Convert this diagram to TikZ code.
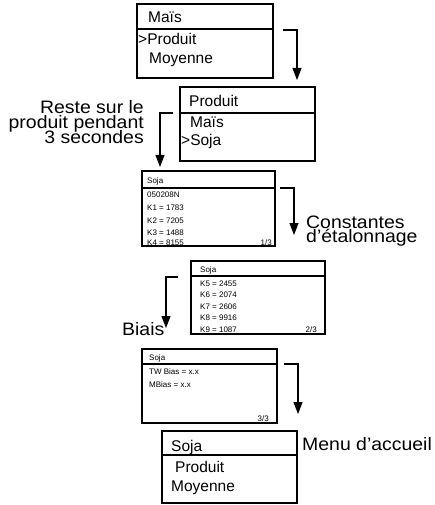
\documentclass[tikz,border=0pt]{standalone}
\usepackage{fontspec}
\setmainfont{Liberation Sans}
\newfontfamily\notefont[Ligatures=TeX, FakeStretch=1.08]{Liberation Sans}
\usetikzlibrary{arrows.meta}

\begin{document}
\begin{tikzpicture}[x=1pt,y=-1pt,
    screen/.style={draw, line width=1.1pt, anchor=north west, inner sep=0pt, outer sep=0pt},
    divider/.style={line width=1.4pt},
    bigtxt/.style={anchor=base west, inner sep=0pt, font=\fontsize{15.5}{18}\selectfont},
    smalltxt/.style={anchor=base west, inner sep=0pt, font=\fontsize{8}{9}\selectfont},
    note/.style={inner sep=0pt, font=\notefont\fontsize{18}{15}\selectfont},
    flow/.style={line width=1.1pt, -{Triangle[width=9pt,length=12pt]}}]
  \useasboundingbox (0,0) rectangle (434,505);

  % main menu, cursor on Produit
  \node[screen, minimum width=136pt, minimum height=74pt] (menu) at (137,4) {};
  \draw[divider] (137,29) -- (273,29);
  \node[bigtxt] (menuA) at (148,23) {Maïs};
  \node[bigtxt] (menuB) at (138,45) {>Produit};
  \node[bigtxt] (menuC) at (149,64) {Moyenne};

  % product list, cursor on Soja
  \node[screen, minimum width=135pt, minimum height=74pt] (prod) at (180,87) {};
  \draw[divider] (180,113) -- (315,113);
  \node[bigtxt] (prodA) at (189,107) {Produit};
  \node[bigtxt] (prodB) at (190,128) {Maïs};
  \node[bigtxt] (prodC) at (181,146) {>Soja};

  % calibration page 1/3
  \node[screen, minimum width=133pt, minimum height=75pt] (cal1) at (142,171) {};
  \draw[divider] (142,188) -- (275,188);
  \node[smalltxt] (cal1h) at (147,183) {Soja};
  \node[smalltxt] (cal1n) at (147,197.5) {050208N};
  \foreach \k/\v/\y in {1/1783/210, 2/7205/223, 3/1488/235.5, 4/8155/245}
    \node[smalltxt] (k\k) at (147,\y) {K\k{} = \v};
  \node[smalltxt, anchor=base east] (cal1p) at (272,245) {1/3};

  % calibration page 2/3
  \node[screen, minimum width=134pt, minimum height=73pt] (cal2) at (191,261) {};
  \draw[divider] (191,276) -- (325,276);
  \node[smalltxt] (cal2h) at (200,272) {Soja};
  \foreach \k/\v/\y in {5/2455/286, 6/2074/297.5, 7/2606/309, 8/9916/320.5, 9/1087/332}
    \node[smalltxt] (k\k) at (200,\y) {K\k{} = \v};
  \node[smalltxt, anchor=base east] (cal2p) at (317,332) {2/3};

  % bias page 3/3
  \node[screen, minimum width=135pt, minimum height=74pt] (bias) at (142,349) {};
  \draw[divider] (142,364) -- (277,364);
  \node[smalltxt] (biash) at (149,360) {Soja};
  \node[smalltxt] (biasA) at (149,374) {TW Bias = x.x};
  \node[smalltxt] (biasB) at (149,387) {MBias = x.x};
  \node[smalltxt, anchor=base east] (biasp) at (269,421) {3/3};

  % back to the home menu
  \node[screen, minimum width=135pt, minimum height=72pt] (home) at (162,431) {};
  \draw[divider] (162,455) -- (297,455);
  \node[bigtxt] (homeA) at (171,451) {Soja};
  \node[bigtxt] (homeB) at (175,472) {Produit};
  \node[bigtxt] (homeC) at (171,491) {Moyenne};

  % side notes
  \foreach \t/\y [count=\i] in {Reste sur le/114, produit pendant/128.5, 3 secondes/143.5}
    \node[note, anchor=base east] (wait\i) at (144,\y) {\t};
  \node[note, anchor=base west] (constA) at (306,228) {Constantes};
  \node[note, anchor=base west] (constB) at (306,242.5) {d'étalonnage};
  \node[note, anchor=base west] (biaslbl) at (122,335) {Biais};
  \node[note, anchor=base west] (homelbl) at (302,450) {Menu d'accueil};

  % arrows between the screens
  \coordinate (s1) at (283,30);  \coordinate (t1) at (297,80);
  \coordinate (s2) at (173,113); \coordinate (t2) at (160,167);
  \coordinate (s3) at (280,188); \coordinate (t3) at (294,235);
  \coordinate (s4) at (178,277); \coordinate (t4) at (166,328);
  \coordinate (s5) at (284,364); \coordinate (t5) at (298,414);
  \foreach \i in {1,...,5}
    \draw[flow] (s\i) -| (t\i);
\end{tikzpicture}
\end{document}
